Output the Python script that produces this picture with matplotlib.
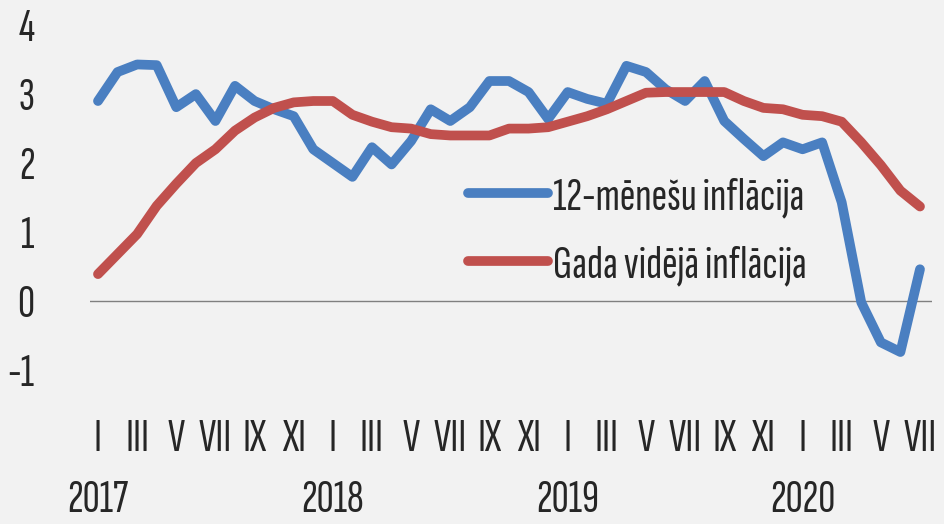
import matplotlib
matplotlib.use("Agg")
import matplotlib.pyplot as plt
import numpy as np

# monthly data, Jan 2017 .. Jul 2020
inflation_12m = [2.9, 3.32, 3.43, 3.42, 2.81, 3.0, 2.61, 3.12, 2.9, 2.78, 2.68, 2.2,
                 2.0, 1.8, 2.23, 1.98, 2.32, 2.78, 2.61, 2.81, 3.19, 3.19, 3.03, 2.64,
                 3.03, 2.93, 2.86, 3.41, 3.32, 3.07, 2.9, 3.19, 2.61, 2.35, 2.1, 2.3,
                 2.2, 2.3, 1.43, -0.02, -0.6, -0.74, 0.46]
inflation_avg = [0.39, 0.68, 0.97, 1.38, 1.7, 2.0, 2.2, 2.47, 2.66, 2.8, 2.88, 2.9,
                 2.9, 2.7, 2.6, 2.52, 2.5, 2.42, 2.4, 2.4, 2.4, 2.5, 2.5, 2.52,
                 2.6, 2.68, 2.78, 2.9, 3.02, 3.03, 3.03, 3.03, 3.03, 2.9, 2.8, 2.78,
                 2.7, 2.68, 2.6, 2.3, 1.97, 1.6, 1.37]
series_labels = ["12-mēnešu inflācija", "Gada vidējā inflācija"]
month_labels = ["I", "III", "V", "VII", "IX", "XI"]
years = ["2017", "2018", "2019", "2020"]

plt.rcParams['font.family'] = ['Sofia Sans Extra Condensed', 'Fira Sans Extra Condensed', 'DejaVu Sans']
bg = "#f2f2f2"
text_col = "#262626"
fs = 34

fig = plt.figure(figsize=(9.44, 5.24), dpi=100, facecolor=bg)
ax = fig.add_axes([0.0953, 0.294, 0.8917, 0.658], facecolor=bg)

x = np.arange(len(inflation_12m))
ax.plot(x, inflation_12m, color="#4a7fc1", lw=7, label=series_labels[0],
        solid_joinstyle="round", solid_capstyle="round")
ax.plot(x, inflation_avg, color="#c0504d", lw=7, label=series_labels[1],
        solid_joinstyle="round", solid_capstyle="round")
ax.axhline(0, color="#808080", lw=1, zorder=0)

ax.set_xlim(-0.41, 42.6)
ax.set_ylim(-1, 4)
ax.set_yticks(range(-1, 5))
ax.set_yticklabels([str(v) for v in range(-1, 5)])

# roman month ticks every second month, years underneath
ticks = np.arange(0, len(x), 2)
ax.set_xticks(ticks)
ax.set_xticklabels([month_labels[(t % 12) // 2] for t in ticks])
ax.tick_params(axis="both", length=0, labelsize=fs, colors=text_col)
ax.tick_params(axis="x", pad=35)
ax.tick_params(axis="y", pad=40)

for i, yr in enumerate(years):
    ax.text(i * 12, -0.38, yr, transform=ax.get_xaxis_transform(),
            ha="center", va="center", fontsize=fs, color=text_col)

for s in ax.spines.values():
    s.set_visible(False)

leg = ax.legend(loc="upper left", bbox_to_anchor=(468 / 944, 1 - 176 / 524),
                bbox_transform=fig.transFigure, frameon=False, fontsize=fs,
                handlelength=1.7, handletextpad=0.1, labelspacing=0.55,
                borderpad=0, borderaxespad=0)
for t in leg.get_texts():
    t.set_color(text_col)

fig.savefig("out.png", dpi=100, facecolor=bg)
